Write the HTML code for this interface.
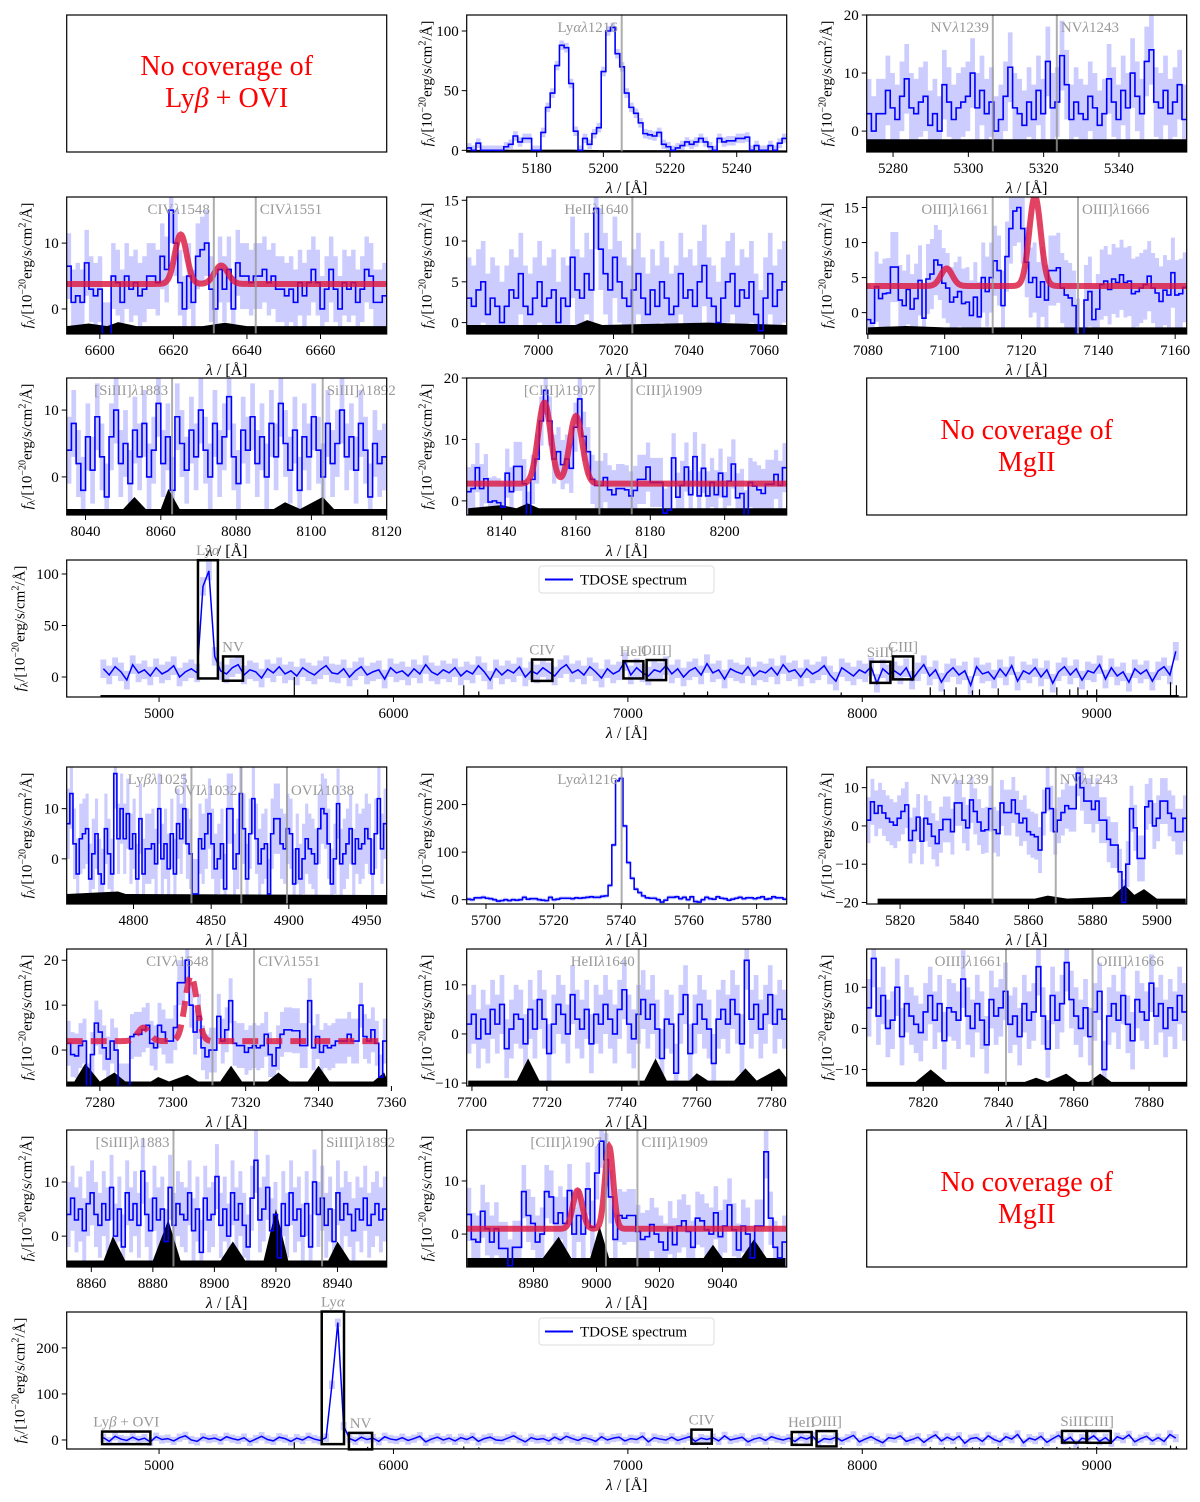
<!DOCTYPE html>
<html><head><meta charset="utf-8"><style>
html,body{margin:0;padding:0;background:#fff;}
svg{display:block;font-family:"Liberation Serif",serif;}
</style></head><body>
<svg id="fig" width="1200" height="1502" viewBox="0 0 1200 1502" xmlns="http://www.w3.org/2000/svg">
<rect x="0" y="0" width="1200" height="1502" fill="#fff"/>
<g>
<rect x="66.7" y="15" width="320" height="137" fill="none" stroke="#000" stroke-width="1.2"/>
<text x="226.7" y="75" font-size="28" fill="#f00" text-anchor="middle">No coverage of</text>
<text x="226.7" y="107" font-size="28" fill="#f00" text-anchor="middle">Ly<tspan font-style="italic">β</tspan> + OVI</text>
</g>
<g>
<rect x="866.7" y="378" width="320" height="137" fill="none" stroke="#000" stroke-width="1.2"/>
<text x="1026.7" y="439" font-size="28" fill="#f00" text-anchor="middle">No coverage of</text>
<text x="1026.7" y="471" font-size="28" fill="#f00" text-anchor="middle">MgII</text>
</g>
<g>
<rect x="866.7" y="1130" width="320" height="137" fill="none" stroke="#000" stroke-width="1.2"/>
<text x="1026.7" y="1191" font-size="28" fill="#f00" text-anchor="middle">No coverage of</text>
<text x="1026.7" y="1223" font-size="28" fill="#f00" text-anchor="middle">MgII</text>
</g>
</svg>
<script>
// ---------- data ----------
const lyaTopFlux=[2,0,6,0,0,0,0,0,3,5,12,7,10,10,0,0,15,36,48,71,88,86,56,16,0,10,5,14,19,66,100,103,81,70,48,36,31,23,14,13,12,15,5,3,0,2,4,7,5,7,10,7,3,0,10,7,8,8,10,10,11,0,4,0,0,4,0,6,10];
const nvTopFlux=[3,0,3,3,7,4,2,6,9,4,3,5,6,1,3,0,8,5,2,4,5,6,10,4,7,3,5,0,2,6,11,4,3,1,5,2,7,3,12,4,5,13,8,2,5,3,2,6,4,1,3,9,5,2,7,4,10,6,3,12,14,5,4,7,3,5,8,2];
const civTopFlux=[6.5,1,2,1,7,3,2,3,-4,-4,5,4,1,5,3,4,2,3,5,5,4,8,6,15,10,4,0,5,1,8,9,10,3,0,6,3,6,0,7,5,5,4,5,5,6,4,5,3,3,2,3,1,4,2,4,6,4,0,3,6,3,0,4,3,4,1,3,6,5,1,1,2];
const heiiTopFlux=[3,2,4,5,1,3,2,0,2,4,3,6,2,1,3,5,2,3,4,0,3,2,8,4,3,6,4,14,9,6,4,8,5,3,2,4,6,3,1,4,2,5,3,1,2,6,3,4,2,5,7,3,2,0,3,5,6,2,4,3,5,1,-1,3,6,2,4,5];
const oiiiTopFlux=[-1,-1.5,3.7,2,2.7,2.8,6.5,6.5,1.8,1,3.3,0.5,2,4.6,-0.8,4.8,5.5,7.5,6.8,4.2,3.5,1.5,2.2,3,1.3,1.5,-0.4,2.2,-0.6,5,3,5,7.4,6,1,8,12,14.5,15,12,7.2,4.3,5,2.2,4.4,1.8,6,6,6.4,3.5,2.5,2.1,1,-3,-8,1.8,3,-1,0.5,4,4.5,3.3,4.8,4.3,5.4,4.3,4.5,2.7,3,3.5,4,5.2,3.5,2.8,1.6,3.2,2.5,5.7,2.5,2.7,3.6];
const siiiiTopFlux=[4,8,2,-2,6,1,9,3,-3,6,10,2,5,-1,7,3,8,0,4,11,2,6,-2,9,5,1,7,3,10,4,0,8,2,6,12,3,-1,7,4,9,2,6,0,8,3,11,5,1,7,-2,6,3,9,4,0,8,2,5,10,3,6,1,8,4,-3,5,2,3];
const ciiiTopFlux=[1.5,2,5.4,2,3.6,-0.2,0,-0.3,-1,4.5,1.5,5.6,5.6,2.8,-2.5,3.5,6.8,13,18,13,6.8,8,5.9,6.8,5.3,12,16.6,10.5,8,3.5,2.5,2.5,3.8,1.8,1,2,2,1.8,0.8,1.7,3.5,3.5,5.5,3,3,3,-2,-1.5,7,0.6,2.5,5.5,1,7.2,0.8,5.3,0.8,3,1,4.5,0.7,3.2,6,0.5,1.2,-2.3,3,2.4,1.8,1.2,2.7,2.7,4.3,2.5,5.4];
const lybBotFlux=[7,13,3,-3,4,5,6,-4,1,5,-3,-5,6,1,-3,17,4,10,4,9,2,5,-4,8,-3,2,2,3,-1,10,0,3,-2,5,-3,7,4,10,3,1,-7,-7,4,2,5,9,3,-2,0,3,-6,10,10,-2,1,13,6,-4,5,12,4,-1,2,3,-7,5,8,8,3,2,6,5,-5,2,-4,0,4,2,1,-1,6,10,9,3,-5,0,11,-1,1,3,6,-1,4,2,3,6,4,-3,5,12,2,7];
const lyaBotFlux=[1,0,4,4,5,3,2,0,-3,-2,0,-2,0,-1,0,5,1,2,2,0,-1,-2,5,0,1,3,3,3,2,4,3,4,5,6,5,5,7,8,30,115,250,255,155,78,45,22,15,8,4,3,3,0,-5,-1,5,5,6,2,5,0,6,-4,-5,0,5,2,1,6,3,2,-1,1,3,5,2,4,4,2,4,6,1,2,6,4,4,1];
const nvBotFlux=[1.5,6.3,3.3,5.3,3.4,2,1,0.2,2,3.8,5.5,-3.8,-1.2,2.3,-4,2,0.5,-2.7,-4.6,-1,1.7,1.7,-1.5,6,6,1.5,-0.5,6.8,3.8,1,-1.3,-1,4.5,-1,-2,6,3.5,3.5,6.8,3.2,0.8,2,-1.5,-2.3,-2.8,-6.3,3.5,9.8,4.5,-1.5,1.5,3.5,5.3,4.5,4.5,13.8,10,6.5,6.5,4.3,6.5,1.5,1.5,-3.5,-5,-5,-12,-20,-10,4.5,-0.5,-8.5,-8.5,5,6.5,0,2,6.5,6.5,3.3,2,-1.5,-1.5,2];
const civBotFlux=[1.5,-1,-1.3,1,2,-8,-1,6,4,0.5,-2,2,0,-8,-8,-8,3,3.5,3.5,4.5,5.5,1.5,0.5,5.5,4,2,2,5,15,15,20,10,4,7.5,0.5,-1.5,0,0,7.5,2,4.5,11,1.5,1,1,-0.5,0.5,1,0.5,1,3.5,-1,-3.5,0.5,3.5,4.5,4.5,4.3,4.3,1,1,11,0.5,3,-0.5,1,0.5,1,2,2,2,3.5,2,2,10,3,2,4.5,1.5,-6,2];
const heiiBotFlux=[2,4,-1,3,0,5,2,6,-3,1,4,3,-2,5,1,7,3,-4,2,6,4,0,8,3,1,5,-2,4,2,6,3,0,5,9,2,-1,4,7,3,6,1,-5,3,2,-8,4,8,-4,2,6,3,1,-6,3,5,2,7,4,-2,15,3,6,1,4,8,2,5,3];
const oiiiBotFlux=[5,17,3,8,0,2,10,-2,6,3,1,-1,4,8,2,6,-3,5,4,2,12,3,0,6,2,-4,7,3,5,9,1,3,-2,6,2,4,15,3,-5,8,2,6,16,7,3,0,5,-2,4,9,-10,3,6,2,8,1,-3,7,4,2,11,3,6,0,5,2,8,4];
const siiiiBotFlux=[4,7,3,5,1,6,8,4,2,6,3,9,0,5,-2,8,3,6,2,12,4,1,7,3,5,-1,9,2,6,4,3,8,1,5,-3,7,3,4,11,2,5,0,8,3,6,2,-2,7,14,3,5,9,1,4,-4,6,2,8,3,5,0,6,-2,10,4,7,2,5,-1,8,3,6,4,1,5,3,7,2,4,6,3,5];
const ciiiBotFlux=[3.7,-1,-1.5,4.3,1,-1.5,1,-2.7,-2.7,-6,-2.5,-2.5,8,3.5,2,-1.5,0,8,7,2,4,2,8.2,0,3.5,0,8.5,1.3,11.5,17.5,14,7,-1,3.5,3,3.5,3.5,0.5,-1,-0.5,1.8,0,-1.5,-3,1.2,-2,1.5,2.5,0.5,-2.5,3,2.5,0.8,0,4,-0.5,1.5,5.5,0.8,-3,1.5,0,-4.5,1.5,1.5,15.5,3,-2.5,-4.5,-1.5];
// sky spectra: [wavelength, level]
const skyLyaTop=[[5159,0.4],[5190,0.6],[5200,0.2],[5255,0]];
const skyNvTop=[[5273,-1.4],[5358,-1.4]];
const skyCivTop=[[6591,-2.6],[6597,-2.2],[6602,-2.6],[6605,-2],[6610,-2.6],[6628,-2.6],[6634,-2.1],[6640,-2.6],[6678,-2.6]];
const skyHeiiTop=[[6981,-0.3],[7010,-0.3],[7013,0.3],[7017,-0.3],[7045,0],[7066,-0.3]];
const skyOiiiTop=[[7080,-2.1],[7090,-1.9],[7100,-2.1],[7163,-2.1]];
const skySiiiiTop=[[8035,-4.8],[8050,-4.8],[8053,-3],[8056,-4.8],[8060,-4.8],[8062,-1.8],[8065,-4.8],[8090,-4.8],[8093,-3.8],[8097,-4.8],[8103,-3],[8106,-4.8],[8120,-4.8]];
const skyCiiiTop=[[8131,-1.2],[8140,-0.7],[8144,-1.2],[8147,-0.4],[8150,-1.2],[8217,-1.2]];
const skyLybBot=[[4757,-7],[4790,-6.5],[4795,-7],[4963,-7.2]];
const skyLyaBot=[[5694,-8],[5789,-8]];
const skyNvBot=[[5813,-19],[5862,-19],[5866,-18.2],[5872,-19],[5886,-18.5],[5890,-15.5],[5893,-18],[5896,-16.5],[5900,-19],[5909,-19]];
const skyCivBot=[[7271,-7],[7273,-7],[7276,-3],[7280,-7],[7284,-5],[7287,-7],[7294,-7],[7296,-6],[7299,-7],[7304,-5.5],[7307,-7],[7313,-7],[7316,-3.5],[7319,-7],[7326,-7],[7329,-5],[7332,-7],[7337,-7],[7340,-3.5],[7343,-7],[7355,-7],[7358,-5],[7359,-7]];
const skyHeiiBot=[[7699,-9.5],[7712,-9.5],[7715,-5],[7718,-9.5],[7746,-9.5],[7749,-5],[7752,-9.5],[7758,-9.5],[7760,-8],[7763,-9.5],[7770,-9.5],[7773,-7],[7776,-9.5],[7782,-7],[7784,-9]];
const skyOiiiBot=[[7805,-13],[7818,-13],[7822,-10],[7826,-13],[7847,-13],[7850,-12],[7853,-13],[7858,-11],[7861,-13],[7864,-13],[7867,-11],[7870,-13],[7890,-13]];
const skySiiiiBot=[[8852,-4.5],[8864,-4.5],[8867,0],[8871,-4.5],[8880,-4.5],[8885,3],[8889,-4.5],[8902,-4.5],[8906,-1],[8910,-4.5],[8916,-4.5],[8920,5],[8924,-4.5],[8937,-4.5],[8940,-1],[8944,-4.5],[8956,-4.5]];
const skyCiiiBot=[[8959,-4.5],[8983,-4.5],[8988,-0.5],[8992,-4.5],[8998,-4.5],[9001,1.5],[9004,-4.5],[9034,-4.5],[9037,-2],[9040,-4.5],[9046,-4.5],[9050,-1],[9054,-4.5],[9060,-4.5]];
// Gaussian fits
const fitCivTop={cont:3.8,centers:[6622,6633],amps:[7.5,2.8],sigmas:[1.6,1.8]};
const fitOiiiTop={cont:3.8,centers:[7100.5,7123.5],amps:[2.5,12.8],sigmas:[1.5,1.5]};
const fitCiiiTop={cont:2.8,centers:[8151.5,8160],amps:[13.2,11],sigmas:[1.7,1.7]};
const fitCivBot={cont:2,centers:[7292,7305],amps:[3,14.5],sigmas:[1.6,1.6]};
const fitCiiiBot={cont:1,centers:[8994,9004],amps:[7.2,15.5],sigmas:[1.5,1.3]};
// wide spectra (25 Å bins from 4750 Å)
const wideStart=4750, wideStep=25;
const wideTopFlux=[8,2,10,5,-3,12,4,7,1,9,3,6,11,0,5,8,4,88,103,20,6,3,9,12,2,7,5,-1,8,4,10,3,6,1,9,5,2,7,11,4,3,8,0,6,10,2,5,7,-2,9,4,6,1,8,3,12,5,2,7,4,9,1,6,3,11,5,-3,8,2,7,4,10,0,6,3,9,5,1,8,12,4,7,2,10,5,-1,8,3,6,15,2,9,4,1,7,5,11,3,8,0,6,9,2,13,4,7,-2,8,5,3,10,1,6,4,9,2,12,5,7,0,8,3,6,11,2,-4,9,5,1,7,4,10,-6,8,3,6,2,9,-3,5,12,1,7,-5,4,9,2,6,-8,10,3,5,-2,8,1,11,-4,6,3,9,0,7,-6,5,10,2,8,-3,6,4,12,-2,9,1,5,-5,8,3,7,-4,6,10,2,25];
const wideBotFlux=[5,-3,8,2,-1,6,0,4,-4,7,1,3,-2,5,9,0,-3,6,2,4,-1,7,3,0,5,-4,2,8,1,-2,6,3,-3,4,0,7,2,-1,5,120,255,30,3,-2,6,1,4,-3,7,2,0,5,-1,3,8,-4,2,6,0,4,-2,5,1,7,-3,3,6,0,-1,4,9,2,-4,5,1,3,-2,6,0,8,3,-1,5,2,-3,7,0,4,6,-2,3,1,8,-4,5,2,0,6,-1,3,7,-3,4,1,5,-2,9,0,3,6,-4,2,5,-1,7,3,0,4,-3,6,2,8,-5,3,1,6,-2,4,10,-4,2,7,0,-6,5,3,9,-3,1,6,-5,4,11,-2,6,0,8,-7,3,5,-3,9,1,-4,7,2,12,-6,4,0,8,-5,3,10,-2,6,-8,4,1,9,-3,5,-6,7,2,11,-4,3,8,-2,5,-3,12,4];
const skySpikeWl=[5577,5890,6300,6364,7240,7340,7600,7910,8290,8350,8400,8470,8500,8580,8770,8830,8885,8920,8960,9000,9315,9340];
const skySpikeTop=[0,-12,-8,-14,-15,-14,-15,-15,-10,-12,-10,-13,-12,-11,-12,-10,-12,-10,-13,-12,-5,-8];
const skySpikeBot=[-5,-15,-14,-16,-17,-16,-17,-16,-15,-16,-15,-16,-16,-15,-16,-15,-16,-15,-16,-15,-12,-14];

// ---------- rendering ----------
const NS='http://www.w3.org/2000/svg';
const svg=document.getElementById('fig');
function mk(tag,attrs,parent){const e=document.createElementNS(NS,tag);for(const k in attrs)e.setAttribute(k,attrs[k]);(parent||svg).appendChild(e);return e;}
let clipId=0;

function yLabel(g,x,cy){
  const t=mk('text',{x:0,y:0,'font-size':15,'text-anchor':'middle',transform:`translate(${x},${cy}) rotate(-90)`},g);
  
  
  t.innerHTML='<tspan font-style="italic">f</tspan><tspan font-size="11" dy="3">λ</tspan><tspan dy="-3">/[10</tspan><tspan font-size="10" dy="-6">−20</tspan><tspan dy="6">erg/s/cm</tspan><tspan font-size="10" dy="-6">2</tspan><tspan dy="6">/Å]</tspan>';
}

function drawPanel(p){
  const g=mk('g',{});
  
  
  const sx=w=>p.x+(w-p.xmin)/(p.xmax-p.xmin)*p.w;
  const sy=v=>p.y+p.h-(v-p.ymin)/(p.ymax-p.ymin)*p.h;
  const cid='c'+(clipId++);
  const cp=mk('clipPath',{id:cid},g);mk('rect',{x:p.x,y:p.y,width:p.w,height:p.h},cp);
  const inner=mk('g',{'clip-path':`url(#${cid})`},g);
  const n=p.flux.length, x0=p.fx0!==undefined?p.fx0:p.xmin, dw=p.step||((p.xmax-x0)/n);
  if(p.err){
    let up='',lo='';
    for(let i=0;i<n;i++){const a=sx(x0+i*dw),b=sx(x0+(i+1)*dw);
      up+=`${a},${sy(p.flux[i]+p.err)} ${b},${sy(p.flux[i]+p.err)} `;
      lo=`${b},${sy(p.flux[i]-p.err)} ${a},${sy(p.flux[i]-p.err)} `+lo;}
    const eb=mk('polygon',{points:up+lo,fill:'#ccccff',stroke:'none'},inner);
    
    
  }
  if(p.sky){
    let pts=`${sx(p.sky[0][0])},${sy(p.ymin)} `;
    p.sky.forEach(s=>{pts+=`${sx(s[0])},${sy(s[1])} `;});
    pts+=`${sx(p.sky[p.sky.length-1][0])},${sy(p.ymin)}`;
    const sk=mk('polygon',{points:pts,fill:'#000'},inner);
    
    
  }
  if(p.spikes){
    p.spikes.wl.forEach((w,i)=>{
      const sl=mk('line',{x1:sx(w),x2:sx(w),y1:sy(p.ymin),y2:sy(p.spikes.h[i]),stroke:'#000','stroke-width':1.2},inner);
      
      
    });
    const base=mk('rect',{x:sx(4750),y:sy(p.spikes.base),width:sx(9350)-sx(4750),height:sy(p.ymin)-sy(p.spikes.base),fill:'#000'},inner);
    
    
  }
  let d='';
  if(p.wide){
    for(let i=0;i<n;i++){d+=(i?'L':'M')+sx(x0+(i+0.5)*dw)+','+sy(p.flux[i]);}
  } else {
    for(let i=0;i<n;i++){const a=sx(x0+i*dw),b=sx(x0+(i+1)*dw);
      d+=(i?'L':'M')+a+','+sy(p.flux[i])+'L'+b+','+sy(p.flux[i]);}
  }
  const fl=mk('path',{d:d,fill:'none',stroke:'#0000ff','stroke-width':p.wide?1.5:1.6},inner);
  
  
  if(p.fit){
    let fd='';
    for(let w=p.xmin,k=0;w<=p.xmax;w+=0.2,k++){
      let v=p.fit.cont;
      p.fit.centers.forEach((c,j)=>{v+=p.fit.amps[j]*Math.exp(-0.5*Math.pow((w-c)/p.fit.sigmas[j],2));});
      fd+=(k?'L':'M')+sx(w)+','+sy(v);
    }
    const attrs={d:fd,fill:'none',stroke:'#dc143c','stroke-width':6,'stroke-opacity':0.8};
    if(p.dashed)attrs['stroke-dasharray']='16 8';
    const ft=mk('path',attrs,inner);
    
    
  }
  if(p.lines){
    p.lines.forEach((w,i)=>{
      const ln=mk('line',{x1:sx(w),x2:sx(w),y1:p.y,y2:p.y+p.h,stroke:'#999','stroke-width':2,'stroke-opacity':0.8},g);
      
      
      const last=(i===p.lines.length-1)&&p.lines.length>1;
      const tx=mk('text',{x:last?sx(w)+4:sx(w)-4,y:p.y+17+(p.labelDy?p.labelDy[i]:0),'font-size':15,fill:'#999','text-anchor':last?'start':'end'},g);
      
      
      tx.innerHTML=p.labels[i];
    });
  }
  if(p.boxes){
    p.boxes.forEach(b=>{
      const r=mk('rect',{x:sx(b.x0),y:sy(Math.min(b.y1,p.ymax+2)),width:sx(b.x1)-sx(b.x0),height:sy(b.y0)-sy(Math.min(b.y1,p.ymax+2)),fill:'none',stroke:'#000','stroke-width':2.5},g);
      
      
      const t=mk('text',{x:(sx(b.x0)+sx(b.x1))/2,y:sy(Math.min(b.y1,p.ymax+2))-5,'font-size':15,fill:'#999','text-anchor':'middle'},g);
      
      
      t.innerHTML=b.label;
    });
  }
  const fr=mk('rect',{x:p.x,y:p.y,width:p.w,height:p.h,fill:'none',stroke:'#000','stroke-width':1.2},g);
  
  
  p.xt.forEach(t=>{
    mk('line',{x1:sx(t),x2:sx(t),y1:p.y+p.h,y2:p.y+p.h+5,stroke:'#000','stroke-width':1},g);
    const tl=mk('text',{x:sx(t),y:p.y+p.h+21,'font-size':15,'text-anchor':'middle'},g);
    
    
    tl.textContent=t;
  });
  p.yt.forEach(t=>{
    mk('line',{x1:p.x-5,x2:p.x,y1:sy(t),y2:sy(t),stroke:'#000','stroke-width':1},g);
    const tl=mk('text',{x:p.x-8,y:sy(t)+5,'font-size':15,'text-anchor':'end'},g);
    
    
    tl.textContent=t<0?'−'+(-t):t;
  });
  const xl=mk('text',{x:p.x+p.w/2,y:p.y+p.h+41,'font-size':16,'text-anchor':'middle'},g);
  
  
  xl.innerHTML='<tspan font-style="italic">λ</tspan> / [Å]';
  yLabel(g,p.x-(p.wide?42:35),p.y+p.h/2);
  if(p.legend){
    const lg=mk('g',{},g);
    
    
    mk('rect',{x:539,y:p.y+6,width:175,height:27,fill:'#fff',stroke:'#ddd','stroke-width':1,rx:3},lg);
    mk('line',{x1:545,x2:573,y1:p.y+19.5,y2:p.y+19.5,stroke:'#0000ff','stroke-width':2},lg);
    const lt=mk('text',{x:580,y:p.y+24.5,'font-size':15},lg);
    
    
    lt.textContent='TDOSE spectrum';
  }
}

const C1=66.7,C2=466.7,C3=866.7,W=320,H=137;
const panels=[
 {name:'panel-lya-top',x:C2,y:15,w:W,h:H,xmin:5159,xmax:5255,ymin:-1.4,ymax:113.4,xt:[5180,5200,5220,5240],yt:[0,50,100],lines:[5205.5],labels:['Ly<tspan font-style="italic">α</tspan><tspan font-style="italic">λ</tspan>1216'],flux:lyaTopFlux,err:4,sky:skyLyaTop},
 {name:'panel-nv-top',x:C3,y:15,w:W,h:H,xmin:5273,xmax:5358,ymin:-3.6,ymax:20,xt:[5280,5300,5320,5340],yt:[0,10,20],lines:[5306.5,5323.5],labels:['NV<tspan font-style="italic">λ</tspan>1239','NV<tspan font-style="italic">λ</tspan>1243'],flux:nvTopFlux,err:6,sky:skyNvTop},
 {name:'panel-civ-top',x:C1,y:197,w:W,h:H,xmin:6591,xmax:6678,ymin:-3.8,ymax:17,xt:[6600,6620,6640,6660],yt:[0,10],lines:[6631,6642.4],labels:['CIV<tspan font-style="italic">λ</tspan>1548','CIV<tspan font-style="italic">λ</tspan>1551'],flux:civTopFlux,err:5,sky:skyCivTop,fit:fitCivTop},
 {name:'panel-heii-top',x:C2,y:197,w:W,h:H,xmin:6981,xmax:7066,ymin:-1.4,ymax:15.4,xt:[7000,7020,7040,7060],yt:[0,5,10,15],lines:[7025],labels:['HeII<tspan font-style="italic">λ</tspan>1640'],flux:heiiTopFlux,err:5,sky:skyHeiiTop},
 {name:'panel-oiii-top',x:C3,y:197,w:W,h:H,xmin:7079.7,xmax:7163,ymin:-3.05,ymax:16.5,xt:[7080,7100,7120,7140,7160],yt:[0,5,10,15],lines:[7112.5,7134.7],labels:['OIII]<tspan font-style="italic">λ</tspan>1661','OIII]<tspan font-style="italic">λ</tspan>1666'],flux:oiiiTopFlux,err:5,sky:skyOiiiTop,fit:fitOiiiTop},
 {name:'panel-siiii-top',x:C1,y:378,w:W,h:H,xmin:8035,xmax:8120,ymin:-5.7,ymax:14.8,xt:[8040,8060,8080,8100,8120],yt:[0,10],lines:[8063,8103],labels:['[SiIII]<tspan font-style="italic">λ</tspan>1883','SiIII]<tspan font-style="italic">λ</tspan>1892'],flux:siiiiTopFlux,err:5,sky:skySiiiiTop},
 {name:'panel-ciii-top',x:C2,y:378,w:W,h:H,xmin:8130.6,xmax:8216.7,ymin:-2.3,ymax:20,xt:[8140,8160,8180,8200],yt:[0,10,20],lines:[8166.3,8175],labels:['[CIII]<tspan font-style="italic">λ</tspan>1907','CIII]<tspan font-style="italic">λ</tspan>1909'],flux:ciiiTopFlux,err:4,sky:skyCiiiTop,fit:fitCiiiTop},
 {name:'panel-wide-top',wide:true,legend:true,x:C1,y:560,w:1120,h:H,xmin:4606,xmax:9384,ymin:-19.4,ymax:113.6,xt:[5000,6000,7000,8000,9000],yt:[0,50,100],flux:wideTopFlux,fx0:wideStart,step:wideStep,err:9,spikes:{wl:skySpikeWl,h:skySpikeTop,base:-17.5},
  boxes:[{x0:5166,x1:5251,y0:-1.4,y1:113.4,label:'Ly<tspan font-style="italic">α</tspan>'},{x0:5273,x1:5358,y0:-3.6,y1:20,label:'NV'},{x0:6591,x1:6678,y0:-3.8,y1:17,label:'CIV'},{x0:6981,x1:7066,y0:-1.4,y1:15.4,label:'HeII'},{x0:7080,x1:7163,y0:-3,y1:16.5,label:'OIII]'},{x0:8035,x1:8120,y0:-5.7,y1:14.8,label:'SiIII'},{x0:8131,x1:8217,y0:-2.3,y1:20,label:'CIII]'}]},
 {name:'panel-lyb-ovi-bottom',x:C1,y:767,w:W,h:H,xmin:4757,xmax:4963,ymin:-9,ymax:18.3,xt:[4800,4850,4900,4950],yt:[0,10],lines:[4837.3,4869.4,4898.8],labels:['Ly<tspan font-style="italic">β</tspan><tspan font-style="italic">λ</tspan>1025','OVI<tspan font-style="italic">λ</tspan>1032','OVI<tspan font-style="italic">λ</tspan>1038'],labelDy:[0,11,11],flux:lybBotFlux,err:7,sky:skyLybBot},
 {name:'panel-lya-bottom',x:C2,y:767,w:W,h:H,xmin:5694.3,xmax:5788.9,ymin:-9.1,ymax:279,xt:[5700,5720,5740,5760,5780],yt:[0,100,200],lines:[5740.1],labels:['Ly<tspan font-style="italic">α</tspan><tspan font-style="italic">λ</tspan>1216'],flux:lyaBotFlux,err:4,sky:skyLyaBot},
 {name:'panel-nv-bottom',x:C3,y:767,w:W,h:H,xmin:5809.6,xmax:5909.3,ymin:-20.4,ymax:15.4,xt:[5820,5840,5860,5880,5900],yt:[-20,-10,0,10],lines:[5848.8,5868.5],labels:['NV<tspan font-style="italic">λ</tspan>1239','NV<tspan font-style="italic">λ</tspan>1243'],flux:nvBotFlux,err:6,sky:skyNvBot},
 {name:'panel-civ-bottom',x:C1,y:949,w:W,h:H,xmin:7270.9,xmax:7358.7,ymin:-8,ymax:22.5,xt:[7280,7300,7320,7340,7360],yt:[0,10,20],lines:[7310.9,7322.3],labels:['CIV<tspan font-style="italic">λ</tspan>1548','CIV<tspan font-style="italic">λ</tspan>1551'],flux:civBotFlux,err:5,sky:skyCivBot,fit:fitCivBot,dashed:true},
 {name:'panel-heii-bottom',x:C2,y:949,w:W,h:H,xmin:7698.6,xmax:7784,ymin:-10.6,ymax:17.3,xt:[7700,7720,7740,7760,7780],yt:[-10,0,10],lines:[7744.5],labels:['HeII<tspan font-style="italic">λ</tspan>1640'],flux:heiiBotFlux,err:6,sky:skyHeiiBot},
 {name:'panel-oiii-bottom',x:C3,y:949,w:W,h:H,xmin:7805,xmax:7890,ymin:-14,ymax:19.3,xt:[7820,7840,7860,7880],yt:[-10,0,10],lines:[7842,7865],labels:['OIII]<tspan font-style="italic">λ</tspan>1661','OIII]<tspan font-style="italic">λ</tspan>1666'],flux:oiiiBotFlux,err:7,sky:skyOiiiBot},
 {name:'panel-siiii-bottom',x:C1,y:1130,w:W,h:H,xmin:8852,xmax:8956,ymin:-5.7,ymax:19.6,xt:[8860,8880,8900,8920,8940],yt:[0,10],lines:[8886.7,8935],labels:['[SiIII]<tspan font-style="italic">λ</tspan>1883','SiIII]<tspan font-style="italic">λ</tspan>1892'],flux:siiiiBotFlux,err:6,sky:skySiiiiBot},
 {name:'panel-ciii-bottom',x:C2,y:1130,w:W,h:H,xmin:8958.8,xmax:9060.4,ymin:-6.2,ymax:19.6,xt:[8980,9000,9020,9040],yt:[0,10],lines:[9003,9013],labels:['[CIII]<tspan font-style="italic">λ</tspan>1907','CIII]<tspan font-style="italic">λ</tspan>1909'],flux:ciiiBotFlux,err:5,sky:skyCiiiBot,fit:fitCiiiBot},
 {name:'panel-wide-bottom',wide:true,legend:true,x:C1,y:1312,w:1120,h:H,xmin:4606,xmax:9384,ymin:-19.6,ymax:278,xt:[5000,6000,7000,8000,9000],yt:[0,100,200],flux:wideBotFlux,fx0:wideStart,step:wideStep,err:9,spikes:{wl:skySpikeWl,h:skySpikeBot,base:-18},
  boxes:[{x0:4757,x1:4963,y0:-9,y1:18.3,label:'Ly<tspan font-style="italic">β</tspan> + OVI'},{x0:5694,x1:5789,y0:-9,y1:279,label:'Ly<tspan font-style="italic">α</tspan>'},{x0:5810,x1:5909,y0:-20.4,y1:15.4,label:'NV'},{x0:7271,x1:7358,y0:-8,y1:22.5,label:'CIV'},{x0:7699,x1:7784,y0:-10.6,y1:17.3,label:'HeII'},{x0:7805,x1:7890,y0:-14,y1:19.3,label:'OIII]'},{x0:8852,x1:8956,y0:-5.7,y1:19.6,label:'SiIII'},{x0:8959,x1:9060,y0:-6.2,y1:19.6,label:'CIII]'}]}
];
panels.forEach(drawPanel);
</script>
</body></html>
